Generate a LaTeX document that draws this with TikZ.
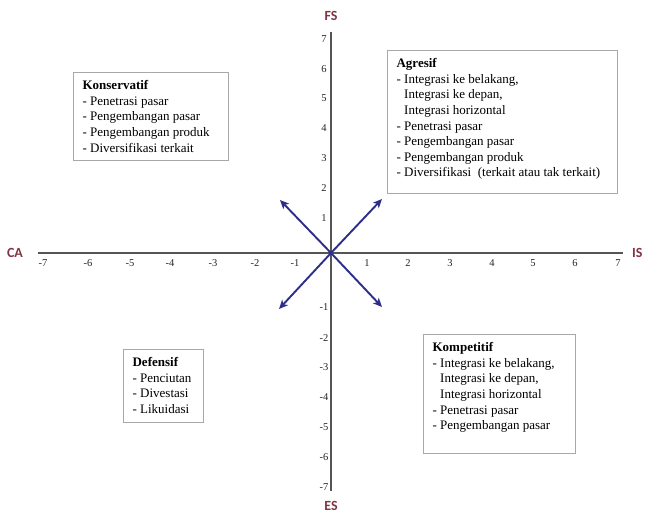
\documentclass[tikz,border=0pt]{standalone}
\usepackage{fontspec}
\setmainfont{Liberation Serif}
\newfontfamily\axfont{Carlito}
\usetikzlibrary{arrows.meta}
\definecolor{axisgray}{HTML}{555555}
\definecolor{arrblue}{HTML}{2E2E8A}
\definecolor{lblred}{HTML}{7F3545}
\definecolor{boxgray}{HTML}{A8A8A8}
\newcommand{\qtext}[3]{\parbox[t][#2][t]{#1}{\fontsize{13}{15.6}\selectfont #3}}
\newcommand{\ind}{\hphantom{- }}
\tikzset{
  quadbox/.style={draw=boxgray, line width=1.2pt, fill=white, inner xsep=9pt, inner ysep=8pt, anchor=north west},
  axisline/.style={draw=axisgray, line width=2.4pt},
  vec/.style={draw=arrblue, line width=1.9pt, -{Stealth[length=9pt,width=8pt,inset=2.5pt]}},
  axlbl/.style={font=\axfont\bfseries\fontsize{14}{16}\selectfont, text=lblred, inner sep=0pt},
  ticklbl/.style={font=\fontsize{10.5}{12}\selectfont, text=black!85, inner sep=0pt}
}
\begin{document}
\begin{tikzpicture}[x=1pt,y=-1pt]
\useasboundingbox (0,0) rectangle (648,514);
\fill[white] (0,0) rectangle (648,514);

% axes
\coordinate (axL) at (38,253);
\coordinate (axR) at (623,253);
\coordinate (axT) at (331,32);
\coordinate (axB) at (331,491);
\draw[axisline] (axL) -- (axR);
\draw[axisline] (axT) -- (axB);

% axis names
\node[axlbl] (CA) at (15,253) {CA};
\node[axlbl, anchor=west] (IS) at (632,253) {IS};
\node[axlbl] (FS) at (331,16) {FS};
\node[axlbl] (ES) at (331,506) {ES};

% tick labels
\foreach \v/\x in {-7/43,-6/88,-5/130,-4/170,-3/213,-2/255,-1/295,1/367,2/408,3/450,4/492,5/533,6/575,7/618}
  \node[ticklbl] (h\v) at (\x,263) {\v};
\foreach \v/\y in {7/39,6/69,5/98,4/128,3/158,2/188,1/218,-1/307,-2/338,-3/367,-4/397,-5/427,-6/457,-7/487}
  \node[ticklbl] (v\v) at (324,\y) {\v};

% arrows
\coordinate (O) at (331,253);
\coordinate (ur) at (382,199);
\coordinate (ul) at (280,200);
\coordinate (ll) at (279,309);
\coordinate (lr) at (382,307);
\draw[vec] (O) -- (ur);
\draw[vec] (O) -- (ul);
\draw[vec] (O) -- (ll);
\draw[vec] (O) -- (lr);

% quadrant boxes
\node[quadbox] (kons) at (73,72) {\qtext{137pt}{72pt}{\textbf{Konservatif}\\
- Penetrasi pasar\\
- Pengembangan pasar\\
- Pengembangan produk\\
- Diversifikasi terkait}};

\node[quadbox] (agr) at (387,50) {\qtext{212pt}{127pt}{\textbf{Agresif}\\
- Integrasi ke belakang,\\
\ind Integrasi ke depan,\\
\ind Integrasi horizontal\\
- Penetrasi pasar\\
- Pengembangan pasar\\
- Pengembangan produk\\
- Diversifikasi\ \ (terkait atau tak terkait)}};

\node[quadbox] (komp) at (423,334) {\qtext{134pt}{103pt}{\textbf{Kompetitif}\\
- Integrasi ke belakang,\\
\ind Integrasi ke depan,\\
\ind Integrasi horizontal\\
- Penetrasi pasar\\
- Pengembangan pasar}};

\node[quadbox] (def) at (123,349) {\qtext{62pt}{57pt}{\textbf{Defensif}\\
- Penciutan\\
- Divestasi\\
- Likuidasi}};
\end{tikzpicture}
\end{document}
